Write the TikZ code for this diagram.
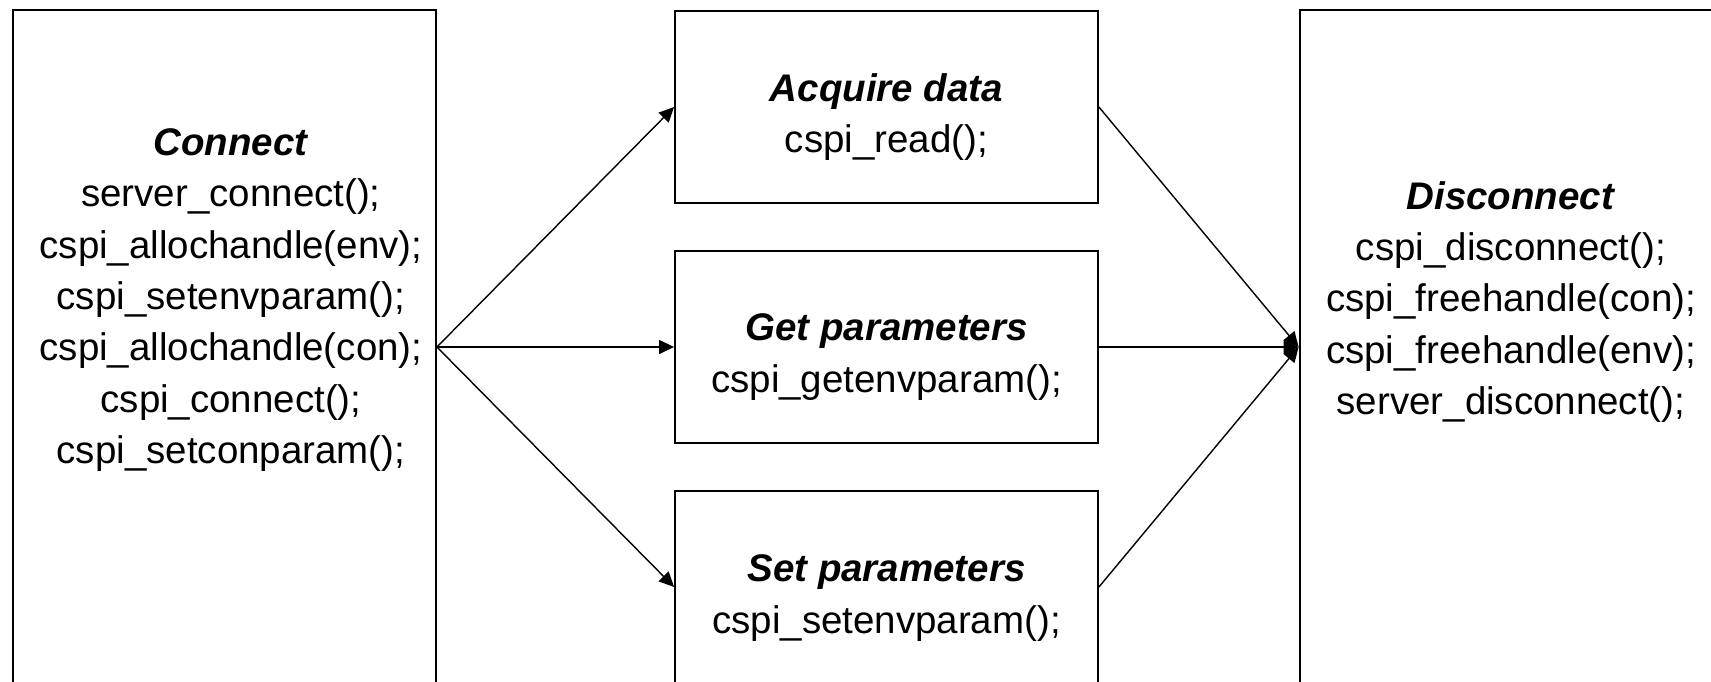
\documentclass[tikz,border=0pt]{standalone}
\usepackage{fontspec}
\setmainfont{Liberation Sans}
\usetikzlibrary{arrows.meta}
\newcommand{\diagfont}{\fontsize{21.9pt}{29.2pt}\selectfont}

\begin{document}
\begin{tikzpicture}[x=0.02cm,y=-0.02cm,
  sidebox/.style={draw,line width=1.1pt,minimum width=8.46cm,minimum height=13.8cm},
  midbox/.style={draw,line width=1.1pt,minimum width=8.46cm,minimum height=3.84cm},
  steptext/.style={align=center,font=\diagfont},
  flow/.style={line width=0.8pt,-{Triangle[length=0.3cm,width=0.28cm]}}]
\useasboundingbox (0,0) rectangle (1711,681);
\clip (0,0) rectangle (1711,681);
% outer stages
\node[sidebox] (connect) at (224.5,355) {};
\node[steptext] (connecttxt) at (231,300) {\textbf{\textit{Connect}}\\server\_connect();\\cspi\_allochandle(env);\\cspi\_setenvparam();\\cspi\_allochandle(con);\\cspi\_connect();\\cspi\_setconparam();};
\node[sidebox] (disconnect) at (1511,355) {};
\node[steptext] (disconnecttxt) at (1511,302) {\textbf{\textit{Disconnect}}\\cspi\_disconnect();\\cspi\_freehandle(con);\\cspi\_freehandle(env);\\server\_disconnect();};
% operations
\node[midbox] (acquire) at (886.5,107) {};
\node[steptext] (acquiretxt) at (886.5,117) {\textbf{\textit{Acquire data}}\\cspi\_read();};
\node[midbox] (getparam) at (886.5,347) {};
\node[steptext] (getparamtxt) at (886.5,357) {\textbf{\textit{Get parameters}}\\cspi\_getenvparam();};
\node[midbox] (setparam) at (886.5,587) {};
\node[steptext] (setparamtxt) at (886.5,598) {\textbf{\textit{Set parameters}}\\cspi\_setenvparam();};
\coordinate (fork) at (connect.east |- getparam.west);
\coordinate (join) at (disconnect.west |- getparam.east);
\foreach \stage in {acquire,getparam,setparam}
  {\draw[flow] (fork) -- (\stage.west);
   \draw[flow] (\stage.east) -- (join);}
\end{tikzpicture}
\end{document}
